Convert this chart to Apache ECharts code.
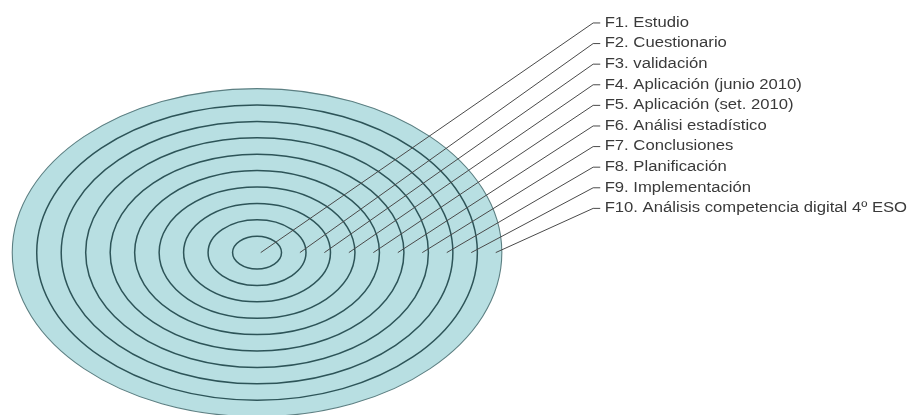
<!DOCTYPE html>
<html>
<head>
<meta charset="utf-8">
<script src="https://cdn.jsdelivr.net/npm/echarts@6/dist/echarts.min.js"></script>
<style>
html,body{margin:0;padding:0;background:#ffffff;}
#chart{width:918px;height:415px;}
</style>
</head>
<body>
<div id="chart"></div>
<script>
// ---- data ----
const phases = [
  'F1. Estudio',
  'F2. Cuestionario',
  'F3. validación',
  'F4. Aplicación (junio 2010)',
  'F5. Aplicación (set. 2010)',
  'F6. Análisi estadístico',
  'F7. Conclusiones',
  'F8. Planificación',
  'F9. Implementación',
  'F10. Análisis competencia digital 4º ESO'
];
const rings = [1, 2, 3, 4, 5, 6, 7, 8, 9, 10];

// ---- layout (in axis units) ----
const LABEL_TOP = 14.0, LABEL_STEP = 1.256;
const ELBOW_X = 13.73, DASH_END_X = 14.02, TEXT_X = 14.2;

const ringData = rings.slice().sort((a, b) => b - a).map(r => [r]);
const leaderData = phases.map((p, i) => [rings[i], i]);

const chart = echarts.init(document.getElementById('chart'), null, {renderer: 'canvas'});
chart.setOption({
  animation: false,
  backgroundColor: '#ffffff',
  grid: {left: 0, right: 0, top: 0, bottom: 0},
  xAxis: {type: 'value', min: -10.5, max: 27, show: false},
  yAxis: {type: 'value', min: -9.9, max: 15.4, show: false},
  series: [
    {
      type: 'custom',
      name: 'anillos',
      data: ringData,
      renderItem: function (params, api) {
        const r = api.value(0);
        const c = api.coord([0, 0]);
        const px = api.coord([r, 0]);
        const py = api.coord([0, r]);
        const outer = r === rings[rings.length - 1];
        return {
          type: 'ellipse',
          shape: {cx: c[0], cy: c[1], rx: px[0] - c[0], ry: c[1] - py[1]},
          style: {
            fill: '#b8dfe2',
            stroke: outer ? '#5c7f82' : '#2d5458',
            lineWidth: outer ? 1.1 : 1.5
          }
        };
      }
    },
    {
      type: 'custom',
      name: 'fases',
      data: leaderData,
      renderItem: function (params, api) {
        const k = api.value(0);
        const idx = api.value(1);
        const startX = k === 1 ? 0.15 : k - 0.25;
        const ly = LABEL_TOP - idx * LABEL_STEP;
        const p0 = api.coord([startX, 0]);
        const p1 = api.coord([ELBOW_X, ly]);
        const p2 = api.coord([DASH_END_X, ly]);
        const pt = api.coord([TEXT_X, ly]);
        return {
          type: 'group',
          children: [
            {
              type: 'polyline',
              shape: {points: [p0, p1, p2]},
              style: {stroke: '#4a4a4a', lineWidth: 1, fill: null}
            },
            {
              type: 'text',
              x: pt[0],
              y: pt[1],
              scaleX: 1.19,
              style: {
                text: phases[idx],
                x: 0, y: 0,
                fill: '#3a3a3a',
                font: '14px "Liberation Sans", Arial, sans-serif',
                align: 'left',
                verticalAlign: 'middle'
              }
            }
          ]
        };
      }
    }
  ]
});
</script>
</body>
</html>
